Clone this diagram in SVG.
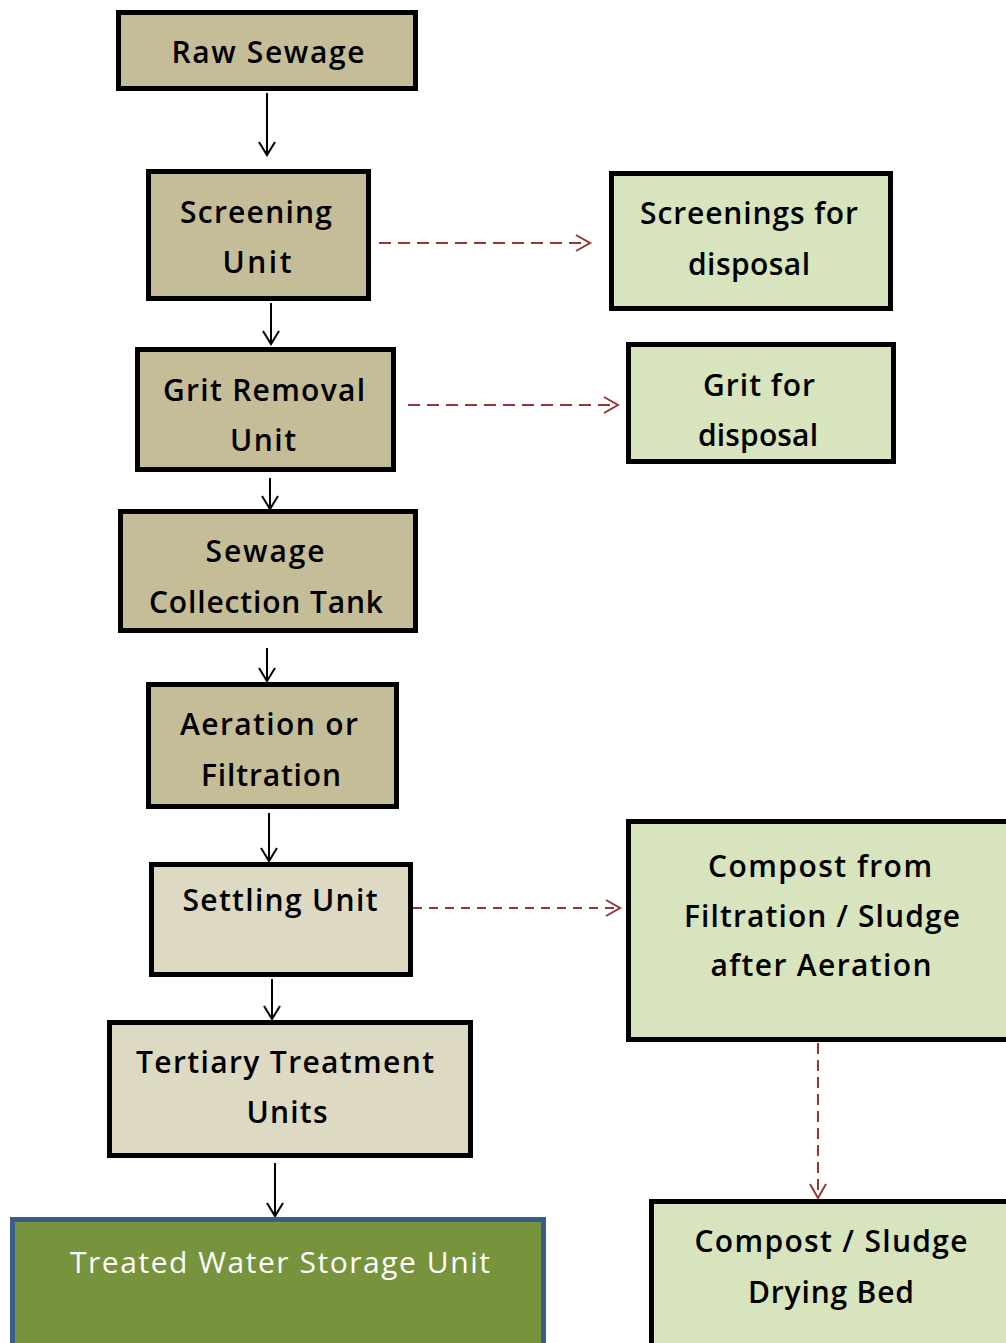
<svg xmlns="http://www.w3.org/2000/svg" width="1006" height="1343" viewBox="0 0 1006 1343">
<style>
.box{stroke:#000;stroke-width:5}
.tan{fill:#C4BD97}
.lt{fill:#DDD9C3}
.gr{fill:#D7E4BD}
.tw{fill:#77933C;stroke:#385D8A;stroke-width:5}
text{font-family:"Open Sans","Liberation Sans",sans-serif;font-size:30px;font-weight:600;fill:#000;text-anchor:middle}
.wt{fill:#fff;font-weight:400}
.solid{stroke:#000;stroke-width:2;fill:none}
.dash{stroke:#943634;stroke-width:2;fill:none}
</style>
<defs>
<marker id="ab" markerUnits="userSpaceOnUse" viewBox="-20 -15 30 30" markerWidth="30" markerHeight="30" refX="0" refY="0" orient="auto" overflow="visible">
<path d="M-13,-8 L0,0 L-13,8" fill="none" stroke="#000" stroke-width="2"/>
</marker>
<marker id="ar" markerUnits="userSpaceOnUse" viewBox="-20 -15 30 30" markerWidth="30" markerHeight="30" refX="0" refY="0" orient="auto" overflow="visible">
<path d="M-14,-8 L0,0 L-14,8" fill="none" stroke="#943634" stroke-width="2"/>
</marker>
</defs>
<g id="connectors">
<line class="solid" x1="267" y1="93" x2="267" y2="155" marker-end="url(#ab)"/>
<line class="solid" x1="271" y1="303" x2="271" y2="344" marker-end="url(#ab)"/>
<line class="solid" x1="270" y1="478" x2="270" y2="509" marker-end="url(#ab)"/>
<line class="solid" x1="267" y1="648" x2="267" y2="681" marker-end="url(#ab)"/>
<line class="solid" x1="269" y1="813" x2="269" y2="861" marker-end="url(#ab)"/>
<line class="solid" x1="272" y1="979" x2="272" y2="1019" marker-end="url(#ab)"/>
<line class="solid" x1="275" y1="1163" x2="275" y2="1216" marker-end="url(#ab)"/>
<line class="dash" x1="379" y1="243" x2="590" y2="243" stroke-dasharray="12 7" marker-end="url(#ar)"/>
<line class="dash" x1="408" y1="405" x2="618" y2="405" stroke-dasharray="12 7" marker-end="url(#ar)"/>
<line class="dash" x1="413" y1="908" x2="620" y2="908" stroke-dasharray="9 7" marker-end="url(#ar)"/>
<line class="dash" x1="818" y1="1043" x2="818" y2="1198" stroke-dasharray="11 6" marker-end="url(#ar)"/>
</g>
<g id="raw-sewage">
<rect class="box tan" x="118.5" y="12.5" width="297" height="76"/>
<text x="268" y="63" textLength="193" lengthAdjust="spacing">Raw Sewage</text>
</g>
<g id="screening-unit">
<rect class="box tan" x="148.5" y="171.5" width="220" height="127"/>
<text x="256" y="223" textLength="152" lengthAdjust="spacing">Screening</text>
<text x="257" y="273" textLength="69" lengthAdjust="spacing">Unit</text>
</g>
<g id="grit-removal-unit">
<rect class="box tan" x="137.5" y="349.5" width="256" height="120"/>
<text x="264" y="401" textLength="202" lengthAdjust="spacing">Grit Removal</text>
<text x="263" y="451" textLength="66" lengthAdjust="spacing">Unit</text>
</g>
<g id="sewage-collection-tank">
<rect class="box tan" x="120.5" y="511.5" width="295" height="119"/>
<text x="265" y="562" textLength="119" lengthAdjust="spacing">Sewage</text>
<text x="266" y="613" textLength="234" lengthAdjust="spacing">Collection Tank</text>
</g>
<g id="aeration-filtration">
<rect class="box tan" x="148.5" y="684.5" width="248" height="122"/>
<text x="269" y="735" textLength="178" lengthAdjust="spacing">Aeration or</text>
<text x="271" y="786" textLength="140" lengthAdjust="spacing">Filtration</text>
</g>
<g id="settling-unit">
<rect class="box lt" x="151.5" y="864.5" width="259" height="110"/>
<text x="280" y="911" textLength="195" lengthAdjust="spacing">Settling Unit</text>
</g>
<g id="tertiary-treatment">
<rect class="box lt" x="109.5" y="1022.5" width="361" height="133"/>
<text x="285" y="1073" textLength="298" lengthAdjust="spacing">Tertiary Treatment</text>
<text x="287" y="1123" textLength="81" lengthAdjust="spacing">Units</text>
</g>
<g id="treated-water">
<rect class="tw" x="12.5" y="1219.5" width="531" height="140"/>
<text class="wt" x="280" y="1273" textLength="420" lengthAdjust="spacing">Treated Water Storage Unit</text>
</g>
<g id="screenings-disposal">
<rect class="box gr" x="611.5" y="173.5" width="279" height="135"/>
<text x="749" y="224" textLength="218" lengthAdjust="spacing">Screenings for</text>
<text x="749" y="275" textLength="122" lengthAdjust="spacing">disposal</text>
</g>
<g id="grit-disposal">
<rect class="box gr" x="628.5" y="344.5" width="265" height="117"/>
<text x="759" y="396" textLength="112" lengthAdjust="spacing">Grit for</text>
<text x="758" y="446" textLength="120" lengthAdjust="spacing">disposal</text>
</g>
<g id="compost-sludge">
<rect class="box gr" x="628.5" y="821.5" width="400" height="218"/>
<text x="820" y="877" textLength="224" lengthAdjust="spacing">Compost from</text>
<text x="822" y="927" textLength="276" lengthAdjust="spacing">Filtration / Sludge</text>
<text x="821" y="976" textLength="221" lengthAdjust="spacing">after Aeration</text>
</g>
<g id="drying-bed">
<rect class="box gr" x="651.5" y="1201.5" width="400" height="200"/>
<text x="831" y="1252" textLength="273" lengthAdjust="spacing">Compost / Sludge</text>
<text x="831" y="1303" textLength="166" lengthAdjust="spacing">Drying Bed</text>
</g>
</svg>
